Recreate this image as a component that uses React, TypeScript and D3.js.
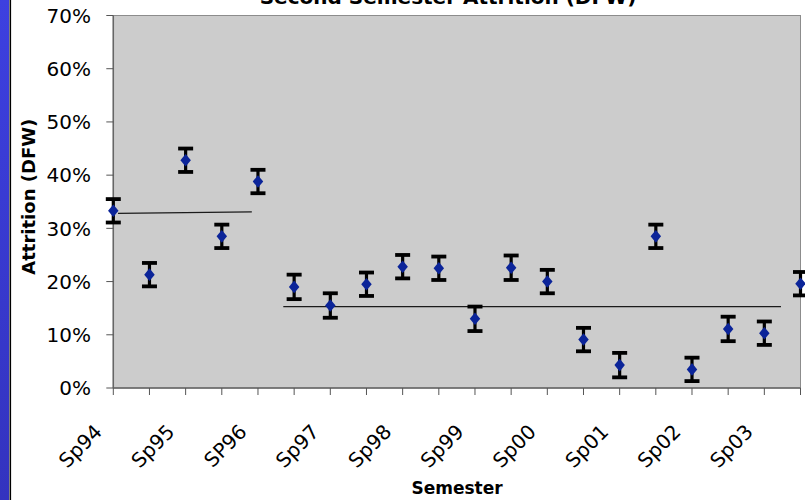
import React from 'react';
import * as d3 from 'd3';

// Second semester attrition (DFW), one point per semester (Spring + Fall)
const attrition = [33.3, 21.3, 42.8, 28.5, 38.8, 19.0, 15.5, 19.5, 22.8, 22.5, 13.0, 22.6, 20.0, 9.1, 4.3, 28.5, 3.5, 11.1, 10.3, 19.6];
const errors = [2.2, 2.2, 2.2, 2.2, 2.2, 2.3, 2.3, 2.2, 2.2, 2.2, 2.3, 2.3, 2.2, 2.2, 2.3, 2.2, 2.2, 2.3, 2.2, 2.2];
const xLabels = ['Sp94', 'Sp95', 'SP96', 'Sp97', 'Sp98', 'Sp99', 'Sp00', 'Sp01', 'Sp02', 'Sp03'];
const yTicks = [0, 10, 20, 30, 40, 50, 60, 70];
// average lines before / after the change
const meanLines = [
  { x0: 0.13, x1: 3.83, y0: 32.8, y1: 33.1 },
  { x0: 4.7, x1: 18.46, y0: 15.3, y1: 15.3 },
];

const W = 805;
const H = 500;
const plot = { left: 113.3, right: 800.5, top: 15.5, bottom: 388 };

// excel-style diamond: a bit taller than wide
const excelDiamond = {
  draw(ctx: any, size: number) {
    const w = Math.sqrt(size) / 2;
    const h = w * 1.2;
    ctx.moveTo(0, -h);
    ctx.lineTo(w, 0);
    ctx.lineTo(0, h);
    ctx.lineTo(-w, 0);
    ctx.closePath();
  },
};

export default function App() {
  const x = d3.scaleLinear().domain([0, 19]).range([plot.left, plot.right]);
  const y = d3.scaleLinear().domain([0, 70]).range([plot.bottom, plot.top]);
  const diamond = d3.symbol().type(excelDiamond as any).size(110)();
  const font = 'DejaVu Sans, Verdana, sans-serif';
  const capW = 7.5;

  return (
    <svg width={W} height={H} style={{ position: 'absolute', left: 0, top: 0 }} fontFamily={font}>
      <defs>
        <linearGradient id="strip" x1="0" y1="0" x2="0" y2="1">
          <stop offset="0%" stopColor="#3d40e0" />
          <stop offset="100%" stopColor="#3333bf" />
        </linearGradient>
      </defs>
      <rect x={0} y={0} width={W} height={H} fill="#ffffff" />
      <rect x={0} y={0} width={9} height={H} fill="url(#strip)" />
      <rect x={9.5} y={0} width={1.6} height={H} fill="#000" />

      <text x={448} y={4} textAnchor="middle" fontSize={20} fontWeight="bold" fill="#000">
        Second Semester Attrition (DFW)
      </text>

      <rect x={plot.left} y={plot.top} width={plot.right - plot.left} height={plot.bottom - plot.top}
        fill="#cccccc" stroke="#8c8c8c" strokeWidth={1} />
      <line x1={plot.left} x2={plot.left} y1={plot.top} y2={plot.bottom} stroke="#666" strokeWidth={1.5} />
      <line x1={plot.left} x2={plot.right} y1={plot.bottom} y2={plot.bottom} stroke="#666" strokeWidth={1.5} />

      {yTicks.map(t => (
        <g key={t}>
          <line x1={plot.left - 7} x2={plot.left} y1={y(t)} y2={y(t)} stroke="#555" strokeWidth={1} />
          <text x={91} y={y(t)} dy="0.36em" textAnchor="end" fontSize={20} fill="#000">{t}%</text>
        </g>
      ))}

      {d3.range(0, 20).map(i => (
        <line key={i} x1={x(i)} x2={x(i)} y1={plot.bottom} y2={plot.bottom + 7} stroke="#555" strokeWidth={1} />
      ))}
      {xLabels.map((l, k) => (
        <text key={l} transform={`translate(${x(k * 2) - 10},${433}) rotate(-45)`} textAnchor="end"
          fontSize={20} fill="#000">{l}</text>
      ))}

      {meanLines.map((m, k) => (
        <line key={k} x1={x(m.x0)} x2={x(m.x1)} y1={y(m.y0)} y2={y(m.y1)} stroke="#1a1a1a" strokeWidth={1.2} />
      ))}

      {attrition.map((v, i) => {
        const cx = x(i);
        const hi = y(v + errors[i]);
        const lo = y(v - errors[i]);
        return (
          <g key={i}>
            <line x1={cx} x2={cx} y1={hi} y2={lo} stroke="#000" strokeWidth={3.2} />
            <line x1={cx - capW} x2={cx + capW} y1={hi} y2={hi} stroke="#000" strokeWidth={3.8} />
            <line x1={cx - capW} x2={cx + capW} y1={lo} y2={lo} stroke="#000" strokeWidth={3.8} />
            <path d={diamond ?? ''} transform={`translate(${cx},${y(v)})`} fill="#0b2499" />
          </g>
        );
      })}

      <text transform={`translate(35,${196.7}) rotate(-90)`} textAnchor="middle" fontSize={18} fontWeight="bold" fill="#000">
        Attrition (DFW)
      </text>
      <text x={457} y={493.5} textAnchor="middle" fontSize={17} fontWeight="bold" fill="#000">Semester</text>
    </svg>
  );
}
